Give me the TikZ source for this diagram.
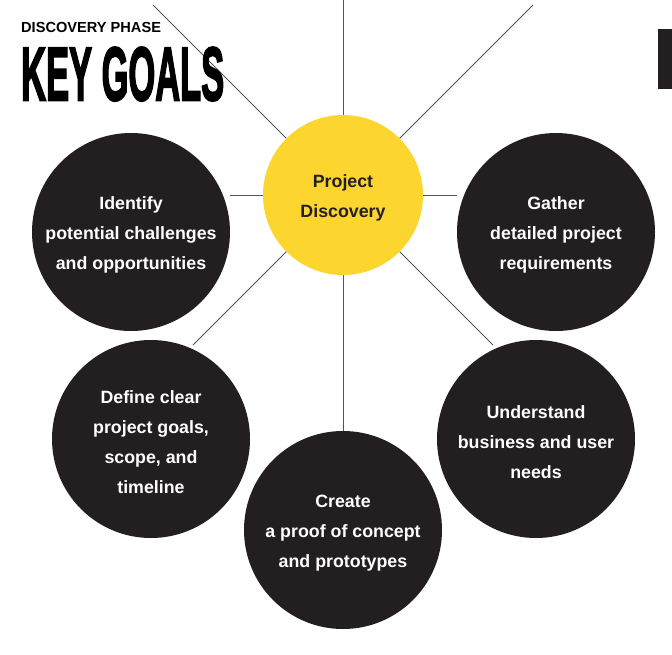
\documentclass[tikz,border=0pt]{standalone}
\usepackage{fontspec}
\setmainfont{Liberation Sans}
\newfontfamily\heavyfont{Liberation Sans}[UprightFont=* Bold, FakeBold=3]
\usepackage{graphicx}
\definecolor{ink}{HTML}{231F20}
\definecolor{sun}{HTML}{FDD52F}
\definecolor{wire}{HTML}{555555}
\begin{document}
\begin{tikzpicture}[x=1pt,y=-1pt,
  goal/.style={circle,fill=ink,minimum size=198pt,inner sep=0pt},
  hub/.style={circle,fill=sun,minimum size=160pt,inner sep=0pt},
  label text/.style={text=white,align=center,inner sep=0pt,font=\fontsize{17.8}{30}\selectfont\bfseries},
  spoke/.style={draw=wire,line width=1pt}]
\useasboundingbox (0,0) rectangle (672,654);
\fill[white] (0,0) rectangle (672,654);
\coordinate (t) at (343,0);
\coordinate (tlq) at (153,5);
\coordinate (trq) at (533,5);
\coordinate (le) at (230,195);
\coordinate (re) at (457,195);
\coordinate (blq) at (193,345);
\coordinate (brq) at (493,345);
\node[hub] (c) at (343,195) {};
\draw[spoke] (c) -- (t);
\draw[spoke] (c) -- (tlq);
\draw[spoke] (c) -- (trq);
\draw[spoke] (c) -- (le);
\draw[spoke] (c) -- (re);
\draw[spoke] (c) -- (blq);
\draw[spoke] (c) -- (brq);
\node[goal] (tl) at (131,232) {};
\node[goal] (tr) at (556,232) {};
\node[goal] (bl) at (151,439) {};
\node[goal] (br) at (536,439) {};
\node[goal] (b) at (343,530) {};
\draw[spoke] (c) -- (b);
\node[label text,text=ink] (ct) at ([yshift=-3pt]c.center) {Project\\Discovery};
\node[label text] (tlt) at ([yshift=-3pt]tl.center) {Identify\\potential challenges\\and opportunities};
\node[label text] (trt) at ([yshift=-3pt]tr.center) {Gather\\detailed project\\requirements};
\node[label text] (blt) at ([yshift=-3pt]bl.center) {Define clear\\project goals,\\scope, and\\timeline};
\node[label text] (brt) at ([yshift=-3pt]br.center) {Understand\\business and user\\needs};
\node[label text] (bt) at ([yshift=-3pt]b.center) {Create\\a proof of concept\\and prototypes};
% title
\node[anchor=base west,inner sep=0pt,font=\fontsize{14.6}{14}\selectfont\bfseries,text=black] (sub) at (21,32) {DISCOVERY PHASE};
\node[anchor=north west,inner sep=0pt,text=black] (title) at (21,47) {\resizebox{203pt}{53pt}{\heavyfont KEY GOALS}};
\fill[ink] (658,29) rectangle (672,89);
\end{tikzpicture}
\end{document}
